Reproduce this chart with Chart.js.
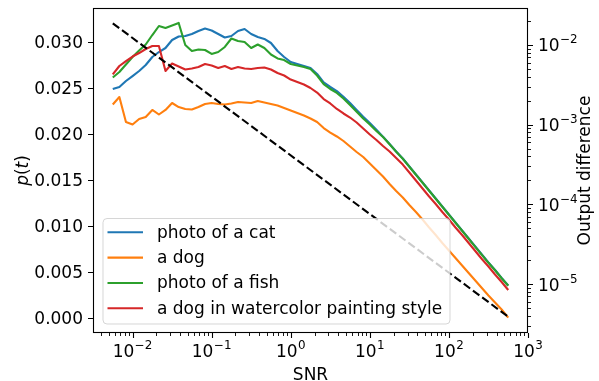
<!DOCTYPE html>
<html><head><meta charset="utf-8">
<script src="https://cdn.jsdelivr.net/npm/chart.js@4.4.0/dist/chart.umd.min.js"></script>
<style>html,body{margin:0;padding:0;background:#fff;}canvas{display:block;}</style>
</head><body>
<canvas id="c" width="599" height="381"></canvas>
<script>
// ---- data ----
const snr = [0.0056234,0.0068129,0.008254,0.01,0.012115,0.014678,0.017783,0.021544,0.026102,0.031623,0.038312,0.046416,0.056234,0.068129,0.08254,0.1,0.12115,0.14678,0.17783,0.21544,0.26102,0.31623,0.38312,0.46416,0.56234,0.68129,0.8254,1,1.2115,1.4678,1.7783,2.1544,2.6102,3.1623,3.8312,4.6416,5.6234,6.8129,8.254,10,12.115,14.678,17.783,21.544,26.102,31.623,38.312,46.416,56.234,68.129,82.54,100,121.15,146.78,177.83,215.44,261.02,316.23,383.12,464.16,562.34];
const photoOfACat = [0.02489,0.02511,0.02576,0.02630,0.02685,0.02750,0.02837,0.02891,0.02935,0.03022,0.03060,0.03065,0.03087,0.03120,0.03147,0.03125,0.03087,0.03049,0.03065,0.03120,0.03141,0.03087,0.03054,0.03033,0.02989,0.02902,0.02837,0.02783,0.02761,0.02739,0.02717,0.02652,0.02560,0.02511,0.02467,0.02405,0.02337,0.02261,0.02188,0.02120,0.02047,0.01971,0.01891,0.01810,0.01734,0.01647,0.01560,0.01473,0.01386,0.01299,0.01212,0.01125,0.01038,0.00951,0.00864,0.00777,0.00690,0.00603,0.00522,0.00435,0.00353];
const aDog = [0.02321,0.02402,0.02130,0.02103,0.02163,0.02185,0.02261,0.02212,0.02261,0.02337,0.02293,0.02272,0.02266,0.02293,0.02326,0.02337,0.02326,0.02321,0.02332,0.02348,0.02342,0.02337,0.02359,0.02342,0.02326,0.02310,0.02283,0.02255,0.02228,0.02201,0.02168,0.02130,0.02065,0.02016,0.01973,0.01924,0.01864,0.01804,0.01750,0.01679,0.01609,0.01538,0.01457,0.01380,0.01310,0.01228,0.01152,0.01071,0.00984,0.00902,0.00815,0.00734,0.00652,0.00571,0.00489,0.00408,0.00326,0.00245,0.00168,0.00092,0.00005];
const photoOfAFish = [0.02614,0.02674,0.02755,0.02837,0.02908,0.02973,0.03076,0.03174,0.03152,0.03179,0.03207,0.02967,0.02902,0.02918,0.02913,0.02870,0.02891,0.02946,0.03038,0.03011,0.03000,0.02935,0.02973,0.02935,0.02864,0.02821,0.02804,0.02761,0.02745,0.02728,0.02707,0.02636,0.02543,0.02489,0.02446,0.02386,0.02315,0.02242,0.02168,0.02103,0.02033,0.01967,0.01888,0.01807,0.01731,0.01644,0.01557,0.01470,0.01383,0.01296,0.01209,0.01122,0.01035,0.00948,0.00861,0.00774,0.00687,0.00600,0.00519,0.00432,0.00350];
const dogWatercolor = [0.02647,0.02739,0.02793,0.02842,0.02880,0.02924,0.02957,0.02957,0.02685,0.02766,0.02734,0.02701,0.02712,0.02728,0.02761,0.02745,0.02717,0.02739,0.02707,0.02728,0.02712,0.02707,0.02717,0.02723,0.02701,0.02663,0.02636,0.02592,0.02565,0.02538,0.02500,0.02451,0.02380,0.02332,0.02272,0.02223,0.02179,0.02125,0.02060,0.01995,0.01935,0.01870,0.01810,0.01739,0.01668,0.01582,0.01495,0.01408,0.01321,0.01239,0.01152,0.01071,0.00984,0.00902,0.00815,0.00728,0.00641,0.00560,0.00473,0.00391,0.00304];
const diffSNR = [0.0056234, 562.34];
const outputDifference = [0.0187, 0.00000389];
const seriesNames = ['photo of a cat','a dog','photo of a fish','a dog in watercolor painting style'];
const pTicks = [0, 0.005, 0.010, 0.015, 0.020, 0.025, 0.030];
const snrTicks = [0.01, 0.1, 1, 10, 100, 1000];
const diffTicks = [1e-5, 1e-4, 1e-3, 1e-2];

// ---- styles ----
const colors = ['#1f77b4','#ff7f0e','#2ca02c','#d62728'];
const FAM = '"DejaVu Sans"';
const FS = 17;
const AREA = {left: 93, right: 528, top: 8, bottom: 333};

const curves = [photoOfACat, aDog, photoOfAFish, dogWatercolor];
const datasets = curves.map((arr, i) => ({
  label: seriesNames[i],
  data: snr.map((x, j) => ({x: x, y: arr[j]})),
  borderColor: colors[i], backgroundColor: colors[i],
  borderWidth: 2.1, pointRadius: 0, tension: 0, yAxisID: 'y', order: 10 - i,
  borderCapStyle: 'butt', borderJoinStyle: 'round'
}));
datasets.push({
  label: 'output difference',
  data: diffSNR.map((x, j) => ({x: x, y: outputDifference[j]})),
  borderColor: '#000', borderWidth: 2.1, borderDash: [8, 3.5],
  pointRadius: 0, yAxisID: 'y2', order: 1
});

function supText(exp) { return exp < 0 ? '\u2212' + Math.abs(exp) : String(exp); }
function drawPow(ctx, x, y, exp, align) {
  const sup = supText(exp);
  ctx.font = FS + 'px ' + FAM;
  const wm = ctx.measureText('10').width;
  ctx.font = (FS * 0.7) + 'px ' + FAM;
  const ws = ctx.measureText(sup).width;
  const total = wm + ws + 0.5;
  const x0 = align === 'center' ? x - total / 2 : x;
  ctx.textAlign = 'left'; ctx.textBaseline = 'alphabetic';
  ctx.font = FS + 'px ' + FAM;
  ctx.fillText('10', x0, y);
  ctx.font = (FS * 0.7) + 'px ' + FAM;
  ctx.fillText(sup, x0 + wm + 0.5, y - 8);
}

const deco = {
  id: 'deco',
  afterDraw(chart) {
    const ctx = chart.ctx;
    const a = chart.chartArea;
    const sx = chart.scales.x, sy = chart.scales.y, sy2 = chart.scales.y2;
    ctx.save();
    ctx.strokeStyle = '#000'; ctx.fillStyle = '#000';
    // frame
    ctx.lineWidth = 1.1;
    ctx.strokeRect(Math.round(a.left) + 0.5, Math.round(a.top) + 0.5, Math.round(a.right - a.left) - 1, Math.round(a.bottom - a.top) - 1);
    // major ticks
    ctx.beginPath();
    pTicks.forEach(v => { const y = Math.round(sy.getPixelForValue(v)) + 0.5; ctx.moveTo(a.left, y); ctx.lineTo(a.left - 5, y); });
    snrTicks.forEach(v => { const x = Math.round(sx.getPixelForValue(v)) + 0.5; ctx.moveTo(x, a.bottom); ctx.lineTo(x, a.bottom + 5); });
    diffTicks.forEach(v => { const y = Math.round(sy2.getPixelForValue(v)) + 0.5; ctx.moveTo(a.right, y); ctx.lineTo(a.right + 5, y); });
    ctx.stroke();
    // minor ticks
    ctx.lineWidth = 0.9;
    ctx.beginPath();
    for (let e = -3; e <= 3; e++) {
      for (let m = 2; m <= 9; m++) {
        const v = m * Math.pow(10, e);
        if (v > sx.min && v < sx.max) { const x = Math.round(sx.getPixelForValue(v)) + 0.5; ctx.moveTo(x, a.bottom); ctx.lineTo(x, a.bottom + 3); }
      }
    }
    for (let e = -7; e <= -1; e++) {
      for (let m = 2; m <= 9; m++) {
        const v = m * Math.pow(10, e);
        if (v > sy2.min && v < sy2.max) { const y = Math.round(sy2.getPixelForValue(v)) + 0.5; ctx.moveTo(a.right, y); ctx.lineTo(a.right + 3, y); }
      }
    }
    ctx.stroke();
    // left tick labels
    ctx.font = FS + 'px ' + FAM; ctx.textAlign = 'right'; ctx.textBaseline = 'alphabetic';
    pTicks.forEach(v => ctx.fillText(v.toFixed(3), a.left - 10, sy.getPixelForValue(v) + 6));
    // log tick labels
    snrTicks.forEach(v => drawPow(ctx, sx.getPixelForValue(v), 357, Math.round(Math.log10(v)), 'center'));
    diffTicks.forEach(v => drawPow(ctx, a.right + 10, sy2.getPixelForValue(v) + 6.5, Math.round(Math.log10(v)), 'left'));
    // axis titles
    ctx.font = FS + 'px ' + FAM; ctx.textAlign = 'center'; ctx.textBaseline = 'alphabetic';
    ctx.fillText('SNR', (a.left + a.right) / 2, 380);
    ctx.save();
    ctx.translate(28, (a.top + a.bottom) / 2);
    ctx.rotate(-Math.PI / 2);
    const parts = [['p', true], ['(', false], ['t', true], [')', false]];
    let tot = 0; const ws = [];
    parts.forEach(p => { ctx.font = (p[1] ? 'italic ' : '') + FS + 'px ' + FAM; const w = ctx.measureText(p[0]).width; ws.push(w); tot += w; });
    let px = -tot / 2;
    ctx.textAlign = 'left';
    parts.forEach((p, i) => { ctx.font = (p[1] ? 'italic ' : '') + FS + 'px ' + FAM; ctx.fillText(p[0], px, 0); px += ws[i]; });
    ctx.restore();
    ctx.save();
    ctx.translate(590, (a.top + a.bottom) / 2);
    ctx.rotate(-Math.PI / 2);
    ctx.font = FS + 'px ' + FAM; ctx.textAlign = 'center';
    ctx.fillText('Output difference', 0, 0);
    ctx.restore();
    // legend
    const lx = 103, ly = 218.5, lw = 347, lh = 105.5, r = 4;
    ctx.beginPath();
    ctx.moveTo(lx + r, ly); ctx.lineTo(lx + lw - r, ly); ctx.arcTo(lx + lw, ly, lx + lw, ly + r, r);
    ctx.lineTo(lx + lw, ly + lh - r); ctx.arcTo(lx + lw, ly + lh, lx + lw - r, ly + lh, r);
    ctx.lineTo(lx + r, ly + lh); ctx.arcTo(lx, ly + lh, lx, ly + lh - r, r);
    ctx.lineTo(lx, ly + r); ctx.arcTo(lx, ly, lx + r, ly, r); ctx.closePath();
    ctx.fillStyle = 'rgba(255,255,255,0.8)'; ctx.fill();
    ctx.strokeStyle = 'rgba(204,204,204,0.8)'; ctx.lineWidth = 1; ctx.stroke();
    seriesNames.forEach((name, i) => {
      const yy = 232.3 + i * 25.33;
      ctx.strokeStyle = colors[i]; ctx.lineWidth = 2.1;
      ctx.beginPath(); ctx.moveTo(107.5, yy); ctx.lineTo(143, yy); ctx.stroke();
      ctx.fillStyle = '#000'; ctx.font = FS + 'px ' + FAM; ctx.textAlign = 'left'; ctx.textBaseline = 'alphabetic';
      ctx.fillText(name, 157, yy + 5.5);
    });
    ctx.restore();
  }
};

new Chart(document.getElementById('c'), {
  type: 'line',
  data: { datasets: datasets },
  options: {
    responsive: false, animation: false, devicePixelRatio: 1,
    layout: { padding: { top: AREA.top, left: 0, right: 0, bottom: 0 } },
    plugins: { legend: { display: false }, tooltip: { enabled: false } },
    scales: {
      x: {
        type: 'logarithmic', position: 'bottom', min: Math.pow(10, -2.5), max: 1000,
        grid: { display: false, drawTicks: false }, border: { display: false },
        ticks: { display: false },
        afterBuildTicks: s => { s.ticks = snrTicks.map(v => ({value: v})); },
        afterFit: s => { s.height = 381 - AREA.bottom; }
      },
      y: {
        type: 'linear', position: 'left', min: -0.00163, max: 0.033696,
        grid: { display: false, drawTicks: false }, border: { display: false },
        ticks: { display: false },
        afterBuildTicks: s => { s.ticks = pTicks.map(v => ({value: v})); },
        afterFit: s => { s.width = AREA.left; }
      },
      y2: {
        type: 'logarithmic', position: 'right', min: Math.pow(10, -5.614), max: Math.pow(10, -1.536),
        grid: { display: false, drawTicks: false }, border: { display: false },
        ticks: { display: false },
        afterBuildTicks: s => { s.ticks = diffTicks.map(v => ({value: v})); },
        afterFit: s => { s.width = 599 - AREA.right; }
      }
    }
  },
  plugins: [deco]
});
</script>
</body></html>
